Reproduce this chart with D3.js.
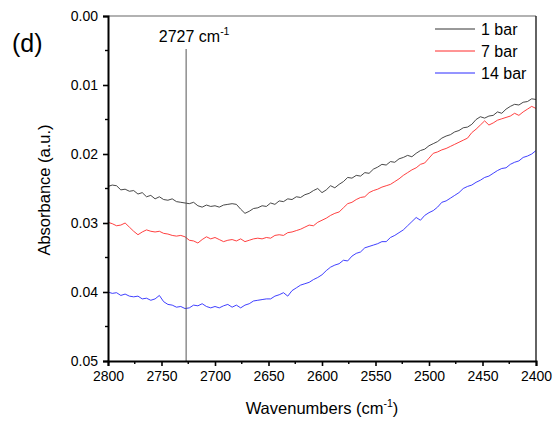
<!DOCTYPE html>
<html>
<head>
<meta charset="utf-8">
<script src="https://d3js.org/d3.v7.min.js"></script>
<style>
body{margin:0;background:#fff;}
text{font-family:"Liberation Sans",Arial,sans-serif;fill:#000;}
</style>
</head>
<body>
<svg id="chart" width="557" height="424"></svg>
<script>
const wavenumbers = [2800,2796,2792,2788,2784,2780,2776,2772,2768,2764,2760,2756,2752,2748,2744,2740,2736,2732,2728,2724,2720,2716,2712,2708,2704,2700,2696,2692,2688,2684,2680,2676,2672,2668,2664,2660,2656,2652,2648,2644,2640,2636,2632,2628,2624,2620,2616,2612,2608,2604,2600,2596,2592,2588,2584,2580,2576,2572,2568,2564,2560,2556,2552,2548,2544,2540,2536,2532,2528,2524,2520,2516,2512,2508,2504,2500,2496,2492,2488,2484,2480,2476,2472,2468,2464,2460,2456,2452,2448,2444,2440,2436,2432,2428,2424,2420,2416,2412,2408,2404,2400];
// absorbance values in units of 1e-4
const bar1 = [247,245,246,252,251,254,253,258,256,262,260,265,262,266,267,265,269,270,271,272,270,275,277,274,276,275,277,274,273,272,273,280,286,283,279,278,275,276,271,273,268,269,265,266,262,263,259,257,253,250,256,252,246,249,244,240,234,235,231,232,227,228,222,219,215,216,211,212,207,205,202,204,199,195,193,188,185,182,177,174,172,168,166,162,161,157,150,146,148,145,144,139,141,135,131,128,129,125,124,120,121];
const bar7 = [299,301,304,303,300,306,312,317,313,310,312,313,312,315,316,318,319,318,320,325,326,329,324,320,323,321,324,327,325,324,326,323,327,325,323,322,323,321,322,318,317,318,314,313,311,309,306,303,304,299,296,293,289,286,284,278,272,270,266,263,262,256,253,251,248,246,244,240,236,231,227,223,220,215,213,206,199,197,194,192,189,186,183,180,177,169,164,158,152,158,155,151,149,147,145,141,144,139,135,131,134];
const bar14 = [400,402,401,405,403,406,407,406,410,409,412,410,405,414,418,419,422,421,424,423,419,420,417,421,423,421,423,420,418,422,419,423,419,417,413,412,411,410,410,406,404,401,406,398,394,390,388,386,382,379,375,369,364,361,359,354,355,348,344,342,336,334,332,330,327,327,321,318,314,310,304,298,292,296,289,285,282,277,270,268,264,260,256,250,247,245,241,238,234,232,228,224,221,220,215,212,210,205,203,200,195];
const seriesNames = ["1 bar","7 bar","14 bar"];
const seriesColors = ["#333333","#ff2a2a","#2a2aff"];
const xTicks = [2800,2750,2700,2650,2600,2550,2500,2450,2400];
const yTicks = [0.00,0.01,0.02,0.03,0.04,0.05];
const markerWavenumber = 2727;

const svg = d3.select("#chart");
const L = 108, R = 536, T = 16, B = 361;
const x = d3.scaleLinear().domain([2800,2400]).range([L,R]);
const y = d3.scaleLinear().domain([0,0.05]).range([T,B]);

const seriesData = [bar1,bar7,bar14];
const line = d3.line().x(d=>x(d[0])).y(d=>y(d[1]*1e-4));

seriesData.forEach((s,k)=>{
  svg.append("path")
    .datum(wavenumbers.map((w,i)=>[w,s[i]]))
    .attr("d",line)
    .attr("fill","none")
    .attr("stroke",seriesColors[k])
    .attr("stroke-width",0.9)
    .attr("stroke-linejoin","round");
});

// frame top & right
svg.append("line").attr("x1",L).attr("x2",R).attr("y1",T).attr("y2",T).attr("stroke","#666").attr("stroke-width",1.2);
svg.append("line").attr("x1",R).attr("x2",R).attr("y1",T).attr("y2",B).attr("stroke","#222").attr("stroke-width",1.4);

// marker line
svg.append("line").attr("x1",x(markerWavenumber)).attr("x2",x(markerWavenumber))
  .attr("y1",49).attr("y2",B).attr("stroke","#555").attr("stroke-width",1);
const mk = svg.append("text").attr("x",x(markerWavenumber)+8).attr("y",42)
  .attr("text-anchor","middle").attr("font-size",16);
mk.append("tspan").text("2727 cm");
mk.append("tspan").attr("font-size",10.5).attr("dy",-7).text("-1");

// x axis
const minorX = [2775,2725,2675,2625,2575,2525,2475,2425];
const xAxis = svg.append("g").attr("transform",`translate(0,${B})`)
  .call(d3.axisBottom(x).tickValues(xTicks).tickSize(5).tickPadding(5).tickFormat(d3.format("d")));
xAxis.select(".domain").attr("stroke","#000").attr("stroke-width",2);
xAxis.selectAll(".tick line").attr("stroke-width",1.6);
xAxis.selectAll("text").attr("font-size",14).attr("font-family","Liberation Sans, Arial, sans-serif");
svg.append("g").attr("transform",`translate(0,${B})`).selectAll("line").data(minorX).join("line")
  .attr("x1",d=>x(d)).attr("x2",d=>x(d)).attr("y1",0).attr("y2",3).attr("stroke","#000").attr("stroke-width",1.4);

// y axis
const minorY = [0.005,0.015,0.025,0.035,0.045];
const yAxis = svg.append("g").attr("transform",`translate(${L},0)`)
  .call(d3.axisLeft(y).tickValues(yTicks).tickSize(5).tickPadding(5).tickFormat(d3.format(".2f")));
yAxis.select(".domain").attr("stroke","#000").attr("stroke-width",2);
yAxis.selectAll(".tick line").attr("stroke-width",1.6);
yAxis.selectAll("text").attr("font-size",14).attr("font-family","Liberation Sans, Arial, sans-serif");
svg.append("g").attr("transform",`translate(${L},0)`).selectAll("line").data(minorY).join("line")
  .attr("x1",0).attr("x2",-3).attr("y1",d=>y(d)).attr("y2",d=>y(d)).attr("stroke","#000").attr("stroke-width",1.4);

// axis titles
const xt = svg.append("text").attr("x",322).attr("y",414).attr("text-anchor","middle").attr("font-size",16.5);
xt.append("tspan").text("Wavenumbers (cm");
xt.append("tspan").attr("font-size",10.5).attr("dy",-7).text("-1");
xt.append("tspan").attr("dy",7).text(")");
svg.append("text").attr("transform","translate(50,190) rotate(-90)").attr("text-anchor","middle")
  .attr("font-size",16.5).text("Absorbance (a.u.)");

// panel label
svg.append("text").attr("x",12).attr("y",52).attr("font-size",25).text("(d)");

// legend
seriesNames.forEach((n,k)=>{
  const yy = 29 + k*22;
  svg.append("line").attr("x1",435).attr("x2",475).attr("y1",yy).attr("y2",yy)
    .attr("stroke",seriesColors[k]).attr("stroke-width",1);
  svg.append("text").attr("x",481).attr("y",yy+6).attr("font-size",16).text(n);
});
</script>
</body>
</html>
